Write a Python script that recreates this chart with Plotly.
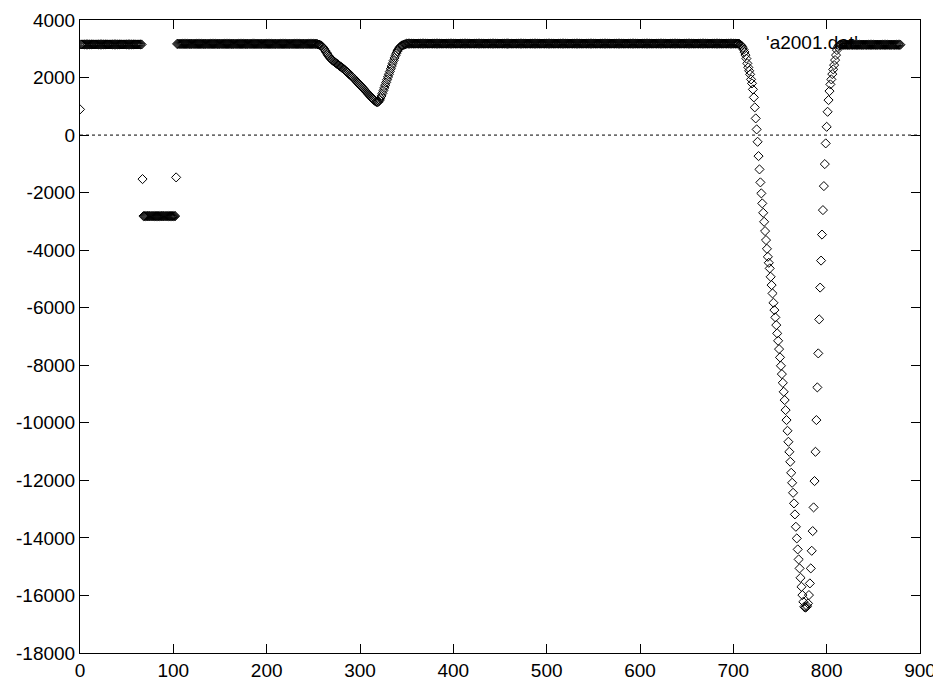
import plotly.graph_objects as go

# ---- data (x step = 1) ----
seg_start = [0, 1, 67, 68, 103, 104, 255, 350, 707, 777, 815]

y_first = [893]

y_band1 = [
    3150, 3150, 3150, 3150, 3150, 3150, 3150, 3150, 3150, 3150, 3150, 3150, 3150, 3150, 3150, 3150, 3150, 3150, 3150, 3150, 3150, 3150,
    3150, 3150, 3150, 3150, 3150, 3150, 3150, 3150, 3150, 3150, 3150, 3150, 3150, 3150, 3150, 3150, 3150, 3150, 3150, 3150, 3150, 3150,
    3150, 3150, 3150, 3150, 3150, 3150, 3150, 3150, 3150, 3150, 3150, 3150, 3150, 3150, 3150, 3150, 3150, 3150, 3150, 3150, 3150, 3150,
]

y_drop1 = [-1529]

y_low = [
    -2815, -2815, -2815, -2815, -2815, -2815, -2815, -2815, -2815, -2815, -2815, -2815, -2815, -2815, -2815, -2815, -2815, -2815, -2815, -2815,
    -2815, -2815, -2815, -2815, -2815, -2815, -2815, -2815, -2815, -2815, -2815, -2815, -2815, -2815, -2815,
]

y_drop2 = [-1470]

y_band2 = [
    3170, 3170, 3170, 3170, 3170, 3170, 3170, 3170, 3170, 3170, 3170, 3170, 3170, 3170, 3170, 3170, 3170, 3170, 3170, 3170,
    3170, 3170, 3170, 3170, 3170, 3170, 3170, 3170, 3170, 3170, 3170, 3170, 3170, 3170, 3170, 3170, 3170, 3170, 3170, 3170,
    3170, 3170, 3170, 3170, 3170, 3170, 3170, 3170, 3170, 3170, 3170, 3170, 3170, 3170, 3170, 3170, 3170, 3170, 3170, 3170,
    3170, 3170, 3170, 3170, 3170, 3170, 3170, 3170, 3170, 3170, 3170, 3170, 3170, 3170, 3170, 3170, 3170, 3170, 3170, 3170,
    3170, 3170, 3170, 3170, 3170, 3170, 3170, 3170, 3170, 3170, 3170, 3170, 3170, 3170, 3170, 3170, 3170, 3170, 3170, 3170,
    3170, 3170, 3170, 3170, 3170, 3170, 3170, 3170, 3170, 3170, 3170, 3170, 3170, 3170, 3170, 3170, 3170, 3170, 3170, 3170,
    3170, 3170, 3170, 3170, 3170, 3170, 3170, 3170, 3170, 3170, 3170, 3170, 3170, 3170, 3170, 3170, 3170, 3170, 3170, 3170,
    3170, 3170, 3170, 3170, 3170, 3170, 3170, 3170, 3170, 3170, 3170,
]

y_dip1 = [
    3150, 3145, 3135, 3115, 3090, 3060, 3020, 2975, 2925, 2870,
    2815, 2765, 2720, 2680, 2645, 2615, 2585, 2560, 2535, 2510,
    2485, 2460, 2435, 2410, 2385, 2360, 2335, 2310, 2285, 2255,
    2225, 2195, 2165, 2135, 2105, 2075, 2045, 2015, 1985, 1950,
    1915, 1880, 1845, 1810, 1775, 1740, 1705, 1670, 1635, 1600,
    1565, 1530, 1495, 1460, 1425, 1390, 1355, 1320, 1285, 1250,
    1220, 1190, 1165, 1150,
    1145, 1170, 1215, 1280, 1360, 1450, 1545, 1640, 1735, 1830,
    1925, 2020, 2115, 2210, 2305, 2400, 2495, 2590, 2680, 2765,
    2845, 2915, 2975, 3025, 3065, 3095, 3115, 3130, 3140, 3150, 3160,
]

y_band3 = [
    3180, 3180, 3180, 3180, 3180, 3180, 3180, 3180, 3180, 3180, 3180, 3180, 3180, 3180, 3180, 3180, 3180, 3180, 3180, 3180, 3180,
    3180, 3180, 3180, 3180, 3180, 3180, 3180, 3180, 3180, 3180, 3180, 3180, 3180, 3180, 3180, 3180, 3180, 3180, 3180, 3180, 3180,
    3180, 3180, 3180, 3180, 3180, 3180, 3180, 3180, 3180, 3180, 3180, 3180, 3180, 3180, 3180, 3180, 3180, 3180, 3180, 3180, 3180,
    3180, 3180, 3180, 3180, 3180, 3180, 3180, 3180, 3180, 3180, 3180, 3180, 3180, 3180, 3180, 3180, 3180, 3180, 3180, 3180, 3180,
    3180, 3180, 3180, 3180, 3180, 3180, 3180, 3180, 3180, 3180, 3180, 3180, 3180, 3180, 3180, 3180, 3180, 3180, 3180, 3180, 3180,
    3180, 3180, 3180, 3180, 3180, 3180, 3180, 3180, 3180, 3180, 3180, 3180, 3180, 3180, 3180, 3180, 3180, 3180, 3180, 3180, 3180,
    3180, 3180, 3180, 3180, 3180, 3180, 3180, 3180, 3180, 3180, 3180, 3180, 3180, 3180, 3180, 3180, 3180, 3180, 3180, 3180, 3180,
    3180, 3180, 3180, 3180, 3180, 3180, 3180, 3180, 3180, 3180, 3180, 3180, 3180, 3180, 3180, 3180, 3180, 3180, 3180, 3180, 3180,
    3180, 3180, 3180, 3180, 3180, 3180, 3180, 3180, 3180, 3180, 3180, 3180, 3180, 3180, 3180, 3180, 3180, 3180, 3180, 3180, 3180,
    3180, 3180, 3180, 3180, 3180, 3180, 3180, 3180, 3180, 3180, 3180, 3180, 3180, 3180, 3180, 3180, 3180, 3180, 3180, 3180, 3180,
    3180, 3180, 3180, 3180, 3180, 3180, 3180, 3180, 3180, 3180, 3180, 3180, 3180, 3180, 3180, 3180, 3180, 3180, 3180, 3180, 3180,
    3180, 3180, 3180, 3180, 3180, 3180, 3180, 3180, 3180, 3180, 3180, 3180, 3180, 3180, 3180, 3180, 3180, 3180, 3180, 3180, 3180,
    3180, 3180, 3180, 3180, 3180, 3180, 3180, 3180, 3180, 3180, 3180, 3180, 3180, 3180, 3180, 3180, 3180, 3180, 3180, 3180, 3180,
    3180, 3180, 3180, 3180, 3180, 3180, 3180, 3180, 3180, 3180, 3180, 3180, 3180, 3180, 3180, 3180, 3180, 3180, 3180, 3180, 3180,
    3180, 3180, 3180, 3180, 3180, 3180, 3180, 3180, 3180, 3180, 3180, 3180, 3180, 3180, 3180, 3180, 3180, 3180, 3180, 3180, 3180,
    3180, 3180, 3180, 3180, 3180, 3180, 3180, 3180, 3180, 3180, 3180, 3180, 3180, 3180, 3180, 3180, 3180, 3180, 3180, 3180, 3180,
    3180, 3180, 3180, 3180, 3180, 3180, 3180, 3180, 3180, 3180, 3180, 3180, 3180, 3180, 3180, 3180, 3180, 3180, 3180, 3180, 3180,
]

y_fall = [
    3145, 3128, 3093, 3041, 2972, 2885, 2780, 2659, 2492, 2353,
    2235, 2110, 1936, 1797, 1588, 1310, 963, 580, 198, -233,
    -730, -1192, -1644, -2026, -2374, -2700, -3013, -3336, -3649, -3952,
    -4230, -4438, -4633, -4925, -5213, -5502, -5828, -6082, -6336, -6603,
    -6892, -7149, -7438, -7726, -8018, -8306, -8609, -8922, -9210, -9558,
    -9905, -10277, -10659, -11007, -11354, -11737, -12084, -12432, -12800, -13183,
    -13613, -14017, -14399, -14747, -15059, -15386, -15699, -15987, -16220, -16394,
]

y_rise = [
    -16420, -16410, -16370, -16276, -15987, -15581, -15059, -14448, -13763, -12939,
    -12025, -11007, -9905, -8769, -7587, -6405, -5300, -4362, -3458, -2607,
    -1773, -1008, -288, 288, 810, 1216, 1529, 1762, 1936, 2120,
    2283, 2433, 2607, 2780, 2954, 3058, 3111, 3145,
]

y_band4 = [
    3140, 3140, 3140, 3140, 3140, 3140, 3140, 3140, 3140, 3140, 3140, 3140, 3140,
    3140, 3140, 3140, 3140, 3140, 3140, 3140, 3140, 3140, 3140, 3140, 3140, 3140,
    3140, 3140, 3140, 3140, 3140, 3140, 3140, 3140, 3140, 3140, 3140, 3140, 3140,
    3140, 3140, 3140, 3140, 3140, 3140, 3140, 3140, 3140, 3140, 3140, 3140, 3140,
    3140, 3140, 3140, 3140, 3140, 3140, 3140, 3140, 3140, 3140, 3140, 3140, 3140,
]

x_ticks = [0, 100, 200, 300, 400, 500, 600, 700, 800, 900]
y_ticks = [4000, 2000, 0, -2000, -4000, -6000, -8000, -10000, -12000, -14000, -16000, -18000]
series_name = "'a2001.dat'"

segments = [y_first, y_band1, y_drop1, y_low, y_drop2, y_band2,
            y_dip1, y_band3, y_fall, y_rise, y_band4]

xs, ys = [], []
for start, seg in zip(seg_start, segments):
    xs.extend(range(start, start + len(seg)))
    ys.extend(seg)

fig = go.Figure()
fig.add_trace(go.Scatter(
    x=xs, y=ys, mode="markers", name=series_name,
    marker=dict(symbol="diamond-open", size=7, color="black",
                line=dict(width=1, color="black")),
    showlegend=False,
))

font = dict(family="Liberation Sans, Arial, sans-serif", size=19, color="black")

axis_common = dict(
    ticks="inside", ticklen=9, tickwidth=1, tickcolor="black",
    showline=True, linecolor="black", linewidth=1, mirror="ticks",
    showgrid=False, zeroline=False, tickfont=font, automargin=False,
)

# the page body adds an 8px offset, so the figure is sized/margined to compensate
fig.update_layout(
    width=933, height=675,
    margin=dict(l=72, r=21, t=12, b=30, autoexpand=False),
    paper_bgcolor="white", plot_bgcolor="white",
    font=font,
    xaxis=dict(range=[0, 900], tickvals=x_ticks,
               ticktext=[str(v) for v in x_ticks], **axis_common),
    yaxis=dict(range=[-18000, 4000], tickvals=y_ticks,
               ticktext=[str(v) for v in y_ticks], **axis_common),
    shapes=[dict(type="line", xref="paper", x0=0, x1=1, yref="y", y0=0, y1=0,
                 line=dict(color="black", width=1, dash="dot"), layer="below")],
    annotations=[dict(text=series_name, xref="paper", yref="paper",
                      x=0.9286, y=0.9637, xanchor="right", yanchor="middle",
                      showarrow=False, font=font)],
)

fig.write_html("out.html")
